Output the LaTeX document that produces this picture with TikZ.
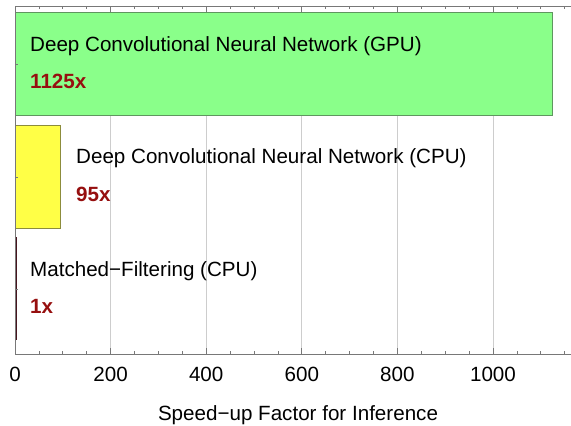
\documentclass[tikz,border=0pt]{standalone}
\usepackage{fontspec}
\setmainfont{Liberation Sans}
\definecolor{gpufill}{RGB}{138,255,138}
\definecolor{gpuedge}{RGB}{95,150,95}
\definecolor{cpufill}{RGB}{255,255,70}
\definecolor{cpuedge}{RGB}{140,140,60}
\definecolor{mfbar}{RGB}{70,20,30}
\definecolor{speedred}{RGB}{150,15,15}
\definecolor{gridgray}{RGB}{205,205,205}
\definecolor{axisgray}{RGB}{120,120,120}
\begin{document}
\begin{tikzpicture}[x=1pt,y=-1pt,
  txt/.style={anchor=base west,inner sep=0pt,font=\fontsize{20.6}{24}\selectfont},
  speed/.style={txt,font=\fontsize{20.6}{24}\selectfont\bfseries,text=speedred},
  ticklbl/.style={anchor=base,inner sep=0pt,font=\fontsize{20.6}{24}\selectfont},
  gridline/.style={draw=gridgray,line width=0.8pt},
  axisline/.style={draw=axisgray,line width=0.8pt},
  tickmark/.style={draw=axisgray,line width=0.7pt}]
\useasboundingbox (0,0) rectangle (571,426);
\fill[white] (0,0) rectangle (571,426);
% vertical grid lines
\foreach \v in {200,400,...,1000}
  \draw[gridline] ({15+0.478*\v},6) -- ({15+0.478*\v},354);
% bars
\draw[fill=gpufill,draw=gpuedge,line width=0.8pt] (15,12.5) rectangle ({15+0.478*1125},115);
\draw[fill=cpufill,draw=cpuedge,line width=0.8pt] (15,125) rectangle ({15+0.478*95},228);
\draw[draw=mfbar,line width=1.6pt] (15.8,237) -- (15.8,340);
% frame: left, bottom and top axes
\draw[axisline] (15,6) -- (571,6);
\draw[axisline] (15,354) -- (571,354);
\draw[axisline] (15,6) -- (15,354);
% ticks on the horizontal axes
\foreach \v in {0,50,...,1150} {
  \draw[tickmark] ({15+0.478*\v},354) -- ({15+0.478*\v},351);
  \draw[tickmark] ({15+0.478*\v},6) -- ({15+0.478*\v},9);
}
\foreach \v in {0,200,...,1000} {
  \draw[tickmark] ({15+0.478*\v},354) -- ({15+0.478*\v},348);
  \draw[tickmark] ({15+0.478*\v},6) -- ({15+0.478*\v},12);
}
% ticks on the vertical axis
\foreach \yy in {64,177,289}
  \draw[tickmark] (15,\yy) -- (18,\yy);
% tick labels
\node[ticklbl] (t0) at (15,381) {0};
\node[ticklbl] (t200) at ({15+0.478*200},381) {200};
\node[ticklbl] (t400) at ({15+0.478*400},381) {400};
\node[ticklbl] (t600) at ({15+0.478*600},381) {600};
\node[ticklbl] (t800) at ({15+0.478*800},381) {800};
\node[ticklbl] (t1000) at ({15+0.478*1000},381) {1000};
\node[ticklbl] (xlabel) at (298,420.5) {Speed−up Factor for Inference};
% bar labels
\node[txt] (gpu) at (30,51) {Deep Convolutional Neural Network (GPU)};
\node[speed] (gpuval) at (30,88) {1125x};
\node[txt] (cpu) at (76,163) {Deep Convolutional Neural Network (CPU)};
\node[speed] (cpuval) at (76,201) {95x};
\node[txt] (mf) at (30,276) {Matched−Filtering (CPU)};
\node[speed] (mfval) at (30,313) {1x};
\end{tikzpicture}
\end{document}
